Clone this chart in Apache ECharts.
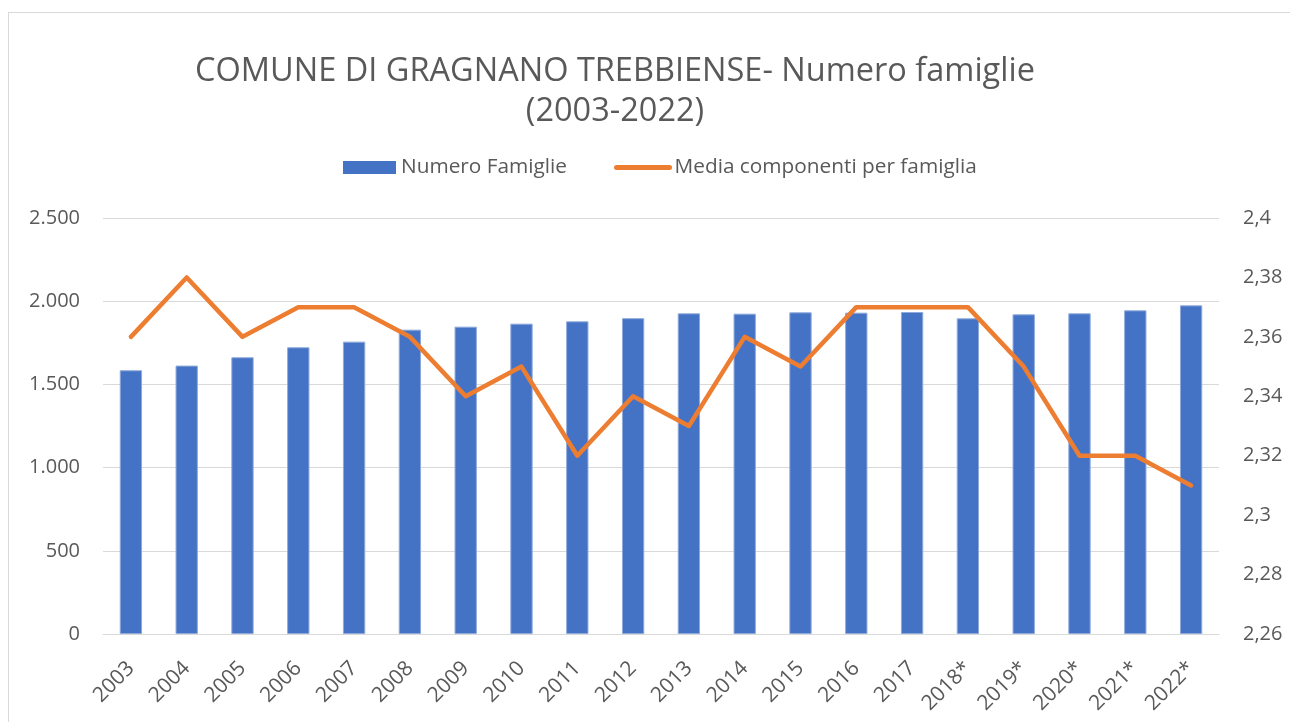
<!DOCTYPE html>
<html>
<head>
<meta charset="utf-8">
<script src="https://cdn.jsdelivr.net/npm/echarts@6/dist/echarts.min.js"></script>
<style>
    html, body { margin: 0; padding: 0; background: #ffffff; }
    #frame { position: absolute; left: 8px; top: 12px; width: 1290px; height: 720px;
        border-left: 1px solid #d9d9d9; border-top: 1px solid #d9d9d9; }
    #chart { position: absolute; left: 0; top: 0; width: 1290px; height: 722px; }
</style>
</head>
<body>
<div id="frame"></div>
<div id="chart"></div>
<script>
// categorie e valori
let years = ['2003', '2004', '2005', '2006', '2007', '2008', '2009', '2010', '2011', '2012',
    '2013', '2014', '2015', '2016', '2017', '2018*', '2019*', '2020*', '2021*', '2022*'];
let famiglie = [1585, 1613, 1663, 1723, 1757, 1829, 1847, 1865, 1879, 1898,
    1927, 1925, 1933, 1931, 1935, 1897, 1921, 1927, 1945, 1975];
let mediaComponenti = [2.36, 2.38, 2.36, 2.37, 2.37, 2.36, 2.34, 2.35, 2.32, 2.34,
    2.33, 2.36, 2.35, 2.37, 2.37, 2.37, 2.35, 2.32, 2.32, 2.31];

let textColor = '#595959';
let fontFamily = '"Open Sans", "Noto Sans", sans-serif';

let option = {
    animation: false,
    title: {
        text: 'COMUNE DI GRAGNANO TREBBIENSE- Numero famiglie\n(2003-2022)',
        left: 610,
        top: 47,
        textAlign: 'center',
        textStyle: {
            color: textColor,
            fontFamily: fontFamily,
            fontWeight: 'normal',
            fontSize: 32.5,
            lineHeight: 40
        }
    },
    legend: {
        top: 152,
        left: 338,
        itemGap: 47,
        itemWidth: 53,
        itemHeight: 13,
        textStyle: {
            color: textColor,
            fontFamily: fontFamily,
            fontSize: 20.8
        },
        data: [
            {name: 'Numero Famiglie', icon: 'rect', itemStyle: {borderWidth: 0}},
            {
                name: 'Media componenti per famiglia',
                itemStyle: {opacity: 0},
                lineStyle: {width: 5, cap: 'round', color: '#ED7D31'}
            }
        ]
    },
    grid: {
        left: 103,
        right: 71,
        top: 218,
        bottom: 88,
        containLabel: false
    },
    xAxis: {
        type: 'category',
        data: years,
        axisTick: {show: false},
        axisLine: {lineStyle: {color: '#d9d9d9', width: 1}},
        axisLabel: {
            rotate: 45,
            margin: 31,
            color: textColor,
            fontFamily: fontFamily,
            fontSize: 21
        }
    },
    yAxis: [
        {
            type: 'value',
            min: 0,
            max: 2500,
            interval: 500,
            axisLine: {show: false},
            axisTick: {show: false},
            splitLine: {lineStyle: {color: '#d9d9d9', width: 1}},
            axisLabel: {
                margin: 23,
                color: textColor,
                fontFamily: fontFamily,
                fontSize: 20,
                formatter: (v) => String(v).replace(/\B(?=(\d{3})+(?!\d))/g, '.')
            }
        },
        {
            type: 'value',
            min: 2.26,
            max: 2.4,
            interval: 0.02,
            axisLine: {show: false},
            axisTick: {show: false},
            splitLine: {show: false},
            axisLabel: {
                margin: 24,
                color: textColor,
                fontFamily: fontFamily,
                fontSize: 20,
                formatter: (v) => String(parseFloat(v.toFixed(2))).replace('.', ',')
            }
        }
    ],
    series: [
        {
            name: 'Numero Famiglie',
            type: 'bar',
            data: famiglie,
            barWidth: '40%',
            itemStyle: {
                color: '#4472C4',
                borderColor: '#8eaadb',
                borderWidth: 1
            }
        },
        {
            name: 'Media componenti per famiglia',
            type: 'line',
            yAxisIndex: 1,
            data: mediaComponenti,
            symbol: 'none',
            lineStyle: {
                color: '#ED7D31',
                width: 4.5,
                cap: 'round',
                join: 'round'
            },
            itemStyle: {color: '#ED7D31'}
        }
    ]
};

let chart = echarts.init(document.getElementById('chart'));
chart.setOption(option);
</script>
</body>
</html>
